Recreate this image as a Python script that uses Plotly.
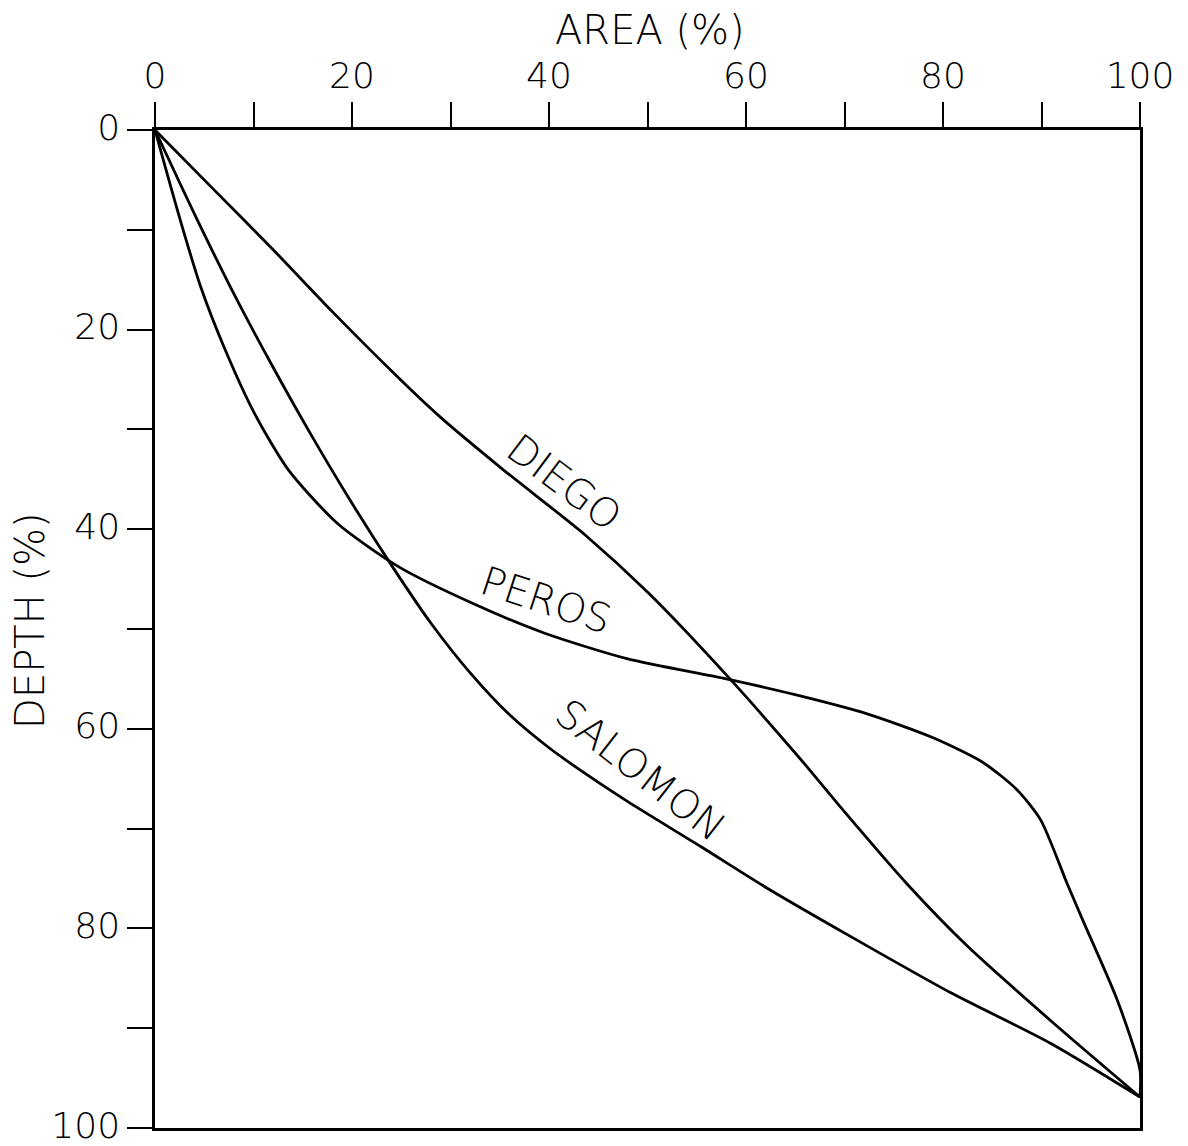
import plotly.graph_objects as go

# Data (area %, depth %)
diego_area = [0, 6, 12, 18, 24.8, 29.0, 35.3, 43.7, 50.1, 58.0, 65.5, 69.9, 76.4,
              82.5, 91, 100]
diego_depth = [0, 6, 12, 18.2, 24.9, 28.8, 34.0, 40.6, 46.4, 54.6, 63.0, 68.2, 75.6,
               81.8, 89.3, 96.9]

peros_area = [0, 2.5, 4.6, 7.2, 10.1, 13.5, 18.5, 24.8, 32.4, 39.5, 48.0, 58.0, 65.5,
              72.3, 79.0, 84.1, 87.5, 89.9, 92.6, 94.2, 97.7, 100, 100]
peros_depth = [0, 8.8, 15.6, 22.2, 28.4, 34.0, 39.4, 43.8, 47.5, 50.4, 53.0, 55.0, 56.7,
               58.5, 60.9, 63.4, 66.1, 69.1, 75.5, 79.2, 87.2, 94.2, 96.9]

salomon_area = [0, 4, 8, 12, 16, 20, 24.2, 28, 32, 36, 40, 44, 48, 55.4, 62.2, 70.6,
                80.7, 90.9, 100]
salomon_depth = [0, 8.4, 16.4, 23.8, 30.8, 37.4, 43.9, 49.4, 54.4, 58.6, 61.9, 64.7, 67.3,
                 71.8, 76.0, 80.8, 86.4, 91.5, 96.9]

tick_vals = list(range(0, 101, 10))
tick_text = [str(v) if v % 20 == 0 else "" for v in tick_vals]

labels = [
    ("DIEGO", 41.5, 35.3, 37),
    ("PEROS", 39.7, 47.1, 18),
    ("SALOMON", 49.3, 64.1, 38),
]

FONT = "DejaVu Sans"
WEIGHT = 300
fig = go.Figure()
for name, xs, ys in [("DIEGO", diego_area, diego_depth),
                     ("PEROS", peros_area, peros_depth),
                     ("SALOMON", salomon_area, salomon_depth)]:
    fig.add_trace(go.Scatter(x=xs, y=ys, mode="lines", name=name,
                             line=dict(color="black", width=2.8, shape="spline", smoothing=0.7),
                             showlegend=False, hoverinfo="skip"))

for text, lx, ly, ang in labels:
    fig.add_annotation(x=lx, y=ly, xref="x", yref="y", text=text, showarrow=False,
                       textangle=ang, xanchor="center", yanchor="middle",
                       font=dict(family=FONT, size=40, color="black", weight=WEIGHT))

fig.add_annotation(x=0.5025, y=1.100, xref="paper", yref="paper", text="AREA (%)",
                   showarrow=False, xanchor="center", yanchor="middle",
                   font=dict(family=FONT, size=40, color="black", weight=WEIGHT))
fig.add_annotation(x=-0.127, y=0.509, xref="paper", yref="paper", text="DEPTH (%)",
                   showarrow=False, textangle=-90, xanchor="center", yanchor="middle",
                   font=dict(family=FONT, size=40, color="black", weight=WEIGHT))

axis_common = dict(range=[0, 100], tickmode="array", tickvals=tick_vals, ticktext=tick_text,
                   ticks="outside", ticklen=25, tickwidth=2, tickcolor="black",
                   showline=True, linecolor="black", linewidth=2.5, mirror=True,
                   showgrid=False, zeroline=False, ticklabeloverflow="allow",
                   automargin=False,
                   tickfont=dict(family=FONT, size=36, color="black", weight=WEIGHT))

fig.update_xaxes(side="top", **axis_common)
fig.update_yaxes(autorange=False, ticklabelshift=3, **{**axis_common, "range": [100, 0]})

fig.update_layout(width=1188, height=1146, margin=dict(l=155, r=48, t=130, b=18),
                  paper_bgcolor="white", plot_bgcolor="white")

fig.write_html("out.html")
